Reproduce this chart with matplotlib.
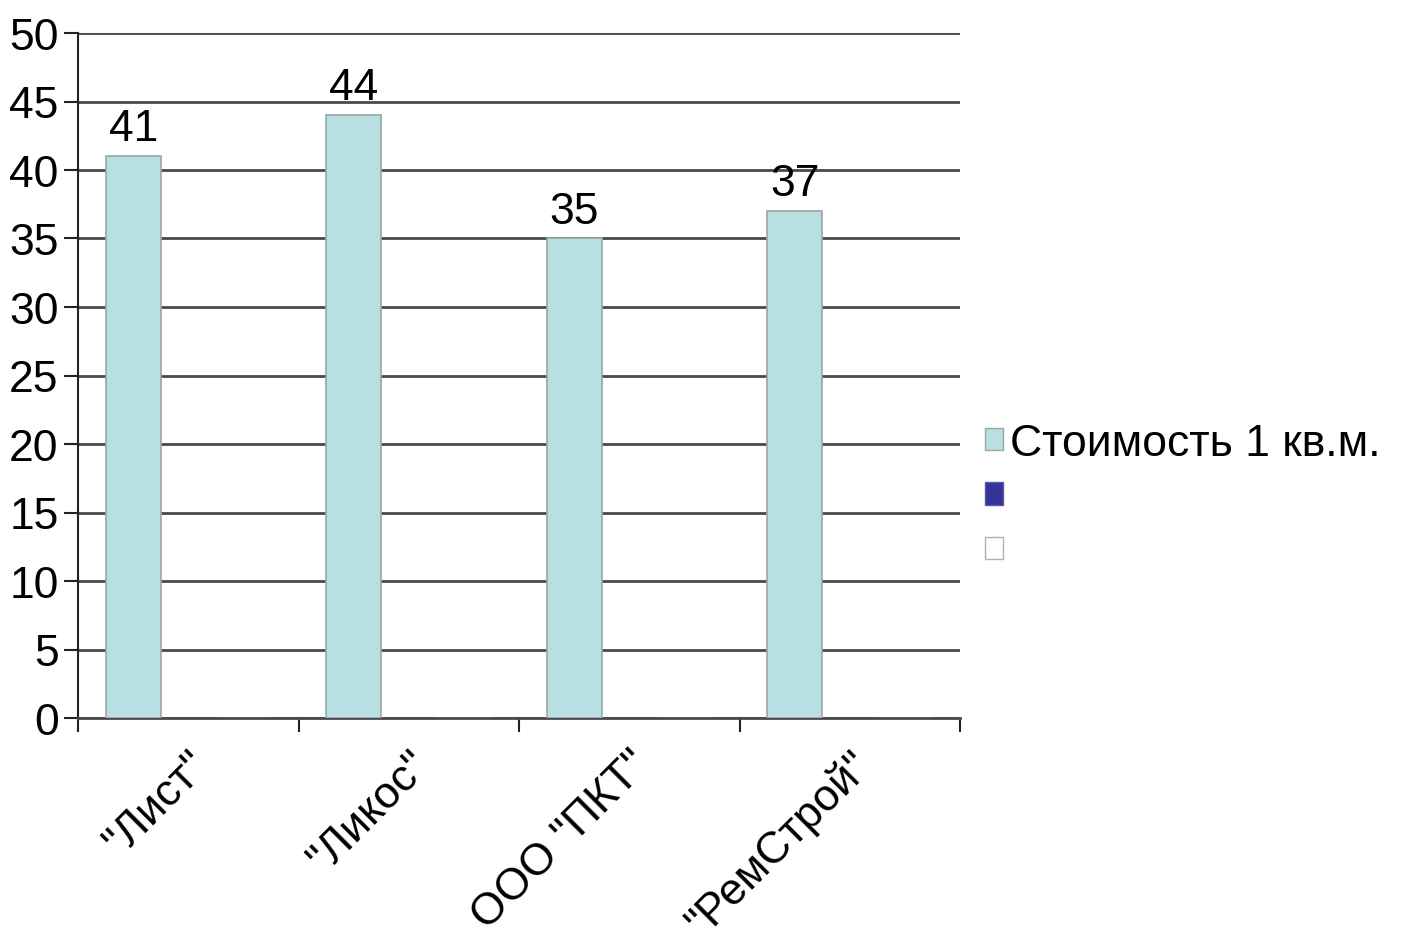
import numpy as np
import matplotlib
matplotlib.use("Agg")
import matplotlib.pyplot as plt
from matplotlib.patches import Patch

plt.rcParams['font.family'] = ['Liberation Sans', 'DejaVu Sans']

# data
categories = ['"Лист"', '"Ликос"', 'ООО "ПКТ"', '"РемСтрой"']
price = [41, 44, 35, 37]
series2 = [0, 0, 0, 0]
series3 = [0, 0, 0, 0]
series_names = ['Стоимость 1 кв.м.', ' ', ' ']

FS = 32
bar_color = '#b8dfe2'
grid_color = '#4a4a4a'

fig = plt.figure(figsize=(14.14, 9.45), dpi=100)
ax = fig.add_axes([78/1414, 1 - 719/945, (960 - 78)/1414, (719 - 34)/945])

x = np.arange(len(categories))
w = 0.25
bars = ax.bar(x - w, price, w, color=bar_color, edgecolor='#9aa6a8', linewidth=1.2, zorder=3)
ax.bar(x, series2, w, color='#333399', zorder=3)
ax.bar(x + w, series3, w, color='white', edgecolor='#a0a0a0', zorder=3)

for b, v in zip(bars, price):
    ax.annotate(str(v), (b.get_x() + b.get_width() / 2, v), xytext=(0, 5),
                textcoords='offset points', ha='center', va='bottom', fontsize=FS)

ax.set_xlim(-0.5, len(categories) - 0.5)
ax.set_ylim(0, 50)
ax.set_yticks(np.arange(0, 51, 5))
ax.yaxis.grid(True, color=grid_color, linewidth=2, zorder=0)
ax.set_axisbelow(True)

for s in ['top', 'right']:
    ax.spines[s].set_visible(False)
ax.spines['left'].set_color('#222222')
ax.spines['left'].set_linewidth(1.5)
ax.spines['bottom'].set_color(grid_color)
ax.spines['bottom'].set_linewidth(2)

ax.tick_params(axis='y', labelsize=FS, length=10, width=1.5, color='#222222', pad=4)
ax.set_xticks(x)
ax.set_xticklabels(categories, rotation=45, ha='right', va='top',
                   rotation_mode='anchor', fontsize=FS)
ax.tick_params(axis='x', which='major', length=0, pad=18)
ax.set_xticks(np.arange(-0.5, len(categories), 1), minor=True)
ax.tick_params(axis='x', which='minor', length=10, width=1.5, color='#222222')

handles = [Patch(facecolor=bar_color, edgecolor='#9aa6a8'),
           Patch(facecolor='#333399', edgecolor='#5a5aa0'),
           Patch(facecolor='white', edgecolor='#b0b0b0')]
fig.legend(handles, series_names, loc='upper left', bbox_to_anchor=(985/1414, 1 - 424/945),
           frameon=False, fontsize=FS, handlelength=0.4, handleheight=0.4,
           handletextpad=0.16, labelspacing=0.3, borderpad=0, borderaxespad=0)

fig.savefig('out.png', dpi=100)
